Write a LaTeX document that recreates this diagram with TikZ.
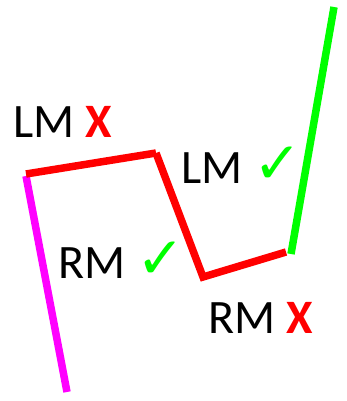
\documentclass[tikz,border=0pt]{standalone}
\usepackage{fontspec}
\setmainfont{Carlito}
\newfontfamily\symfont{DejaVu Sans}
\usepackage{tikz}
\definecolor{seggreen}{HTML}{00FF00}
\definecolor{segmagenta}{HTML}{FF00FF}
\definecolor{segred}{HTML}{FF0000}
\newcommand{\okmark}{{\symfont\fontsize{58}{58}\selectfont\color{seggreen}\char"2713}}
\newcommand{\badmark}{{\bfseries\color{segred}X}}

\begin{document}
\begin{tikzpicture}[x=1pt,y=-1pt,
    seg/.style={line width=7.5pt},
    tag/.style={anchor=base west,inner sep=0pt,font=\fontsize{48}{54}\selectfont}]
  \useasboundingbox (0,0) rectangle (347,401);

  % corner points
  \coordinate (m0) at (26,176);
  \coordinate (m1) at (67,392);
  \coordinate (r0) at (26,174);
  \coordinate (r1) at (156,153);
  \coordinate (r2) at (203,277);
  \coordinate (r3) at (286,252);
  \coordinate (g0) at (291,254);
  \coordinate (g1) at (334,7);

  % segments
  \draw[seg,segmagenta] (m0) -- (m1);
  \draw[seg,segred] (r0) -- (r1);
  \draw[seg,segred] (r1) -- (r2) -- (r3);
  \draw[seg,seggreen] (g0) -- (g1);

  % labels
  \node[tag] (lmbad) at (13,137) {LM \badmark};
  \node[tag] (lmok)  at (181,183) {LM \okmark};
  \node[tag] (rmok)  at (58,278) {RM \okmark};
  \node[tag] (rmbad) at (208,333) {RM \badmark};
\end{tikzpicture}
\end{document}
